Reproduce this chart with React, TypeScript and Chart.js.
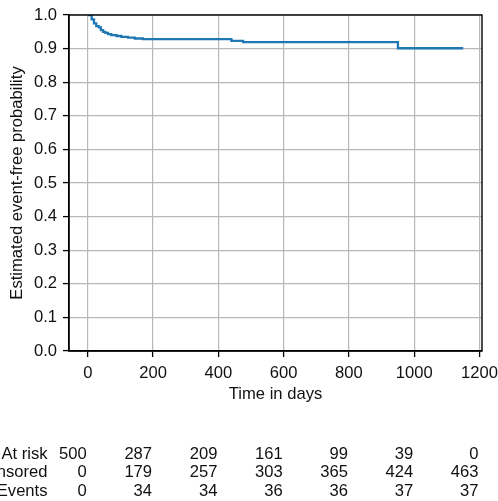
import React, { useEffect, useRef } from "react";
import { Chart, registerables } from "chart.js";

Chart.register(...registerables);

// ---- data ----
const kmTimes = [0, 12, 19, 26, 34, 40, 47, 54, 62, 72, 88, 103, 123, 144, 169, 440, 476, 950, 1150];
const kmSurv = [1.0, 0.987, 0.975, 0.967, 0.963, 0.955, 0.95, 0.947, 0.943, 0.94, 0.9375, 0.935, 0.9325, 0.93, 0.928, 0.923, 0.919, 0.901, 0.901];
const xTicks = [0, 200, 400, 600, 800, 1000, 1200];
const yTicks = [0, 0.1, 0.2, 0.3, 0.4, 0.5, 0.6, 0.7, 0.8, 0.9, 1.0];
const riskLabels = ["At risk", "Censored", "Events"];
const atRisk = [500, 287, 209, 161, 99, 39, 0];
const censored = [0, 179, 257, 303, 365, 424, 463];
const events = [0, 34, 34, 36, 36, 37, 37];
const xLabel = "Time in days";
const yLabel = "Estimated event-free probability";

const FONT = "'Liberation Sans', Arial, Helvetica, sans-serif";
const FS = 16.6;
const TEXT = "#111111";

const framePlugin = {
  id: "frame",
  afterDatasetsDraw(chart: any) {
    const { ctx, chartArea: a } = chart;
    ctx.save();
    ctx.strokeStyle = "#000";
    ctx.lineWidth = 1.4;
    ctx.strokeRect(a.left, a.top, a.right - a.left, a.bottom - a.top);
    ctx.restore();
  },
};

const riskTablePlugin = {
  id: "riskTable",
  afterDraw(chart: any) {
    const { ctx } = chart;
    const xs = chart.scales.x;
    const rows = [atRisk, censored, events];
    const rowY = [454, 472.5, 491];
    ctx.save();
    ctx.font = `${FS}px ${FONT}`;
    ctx.fillStyle = TEXT;
    ctx.textAlign = "right";
    ctx.textBaseline = "middle";
    rows.forEach((vals, r) => {
      ctx.fillText(riskLabels[r], 47.5, rowY[r]);
      vals.forEach((v, i) => {
        const px = xs.getPixelForValue(xTicks[i]) - 1;
        ctx.fillText(String(v), px, rowY[r]);
      });
    });
    ctx.restore();
  },
};

export default function App() {
  const ref = useRef<HTMLCanvasElement | null>(null);
  useEffect(() => {
    if (!ref.current) return;
    const chart = new Chart(ref.current, {
      type: "line",
      data: {
        datasets: [
          {
            data: kmTimes.map((t, i) => ({ x: t, y: kmSurv[i] })),
            borderColor: "#1f77b4",
            backgroundColor: "#1f77b4",
            borderWidth: 2.3,
            pointRadius: 0,
            stepped: true,
            fill: false,
          },
        ],
      },
      options: {
        responsive: false,
        animation: false,
        devicePixelRatio: 1,
        layout: { padding: { left: 0, right: 16, top: 15, bottom: 0 }, autoPadding: false },
        plugins: { legend: { display: false }, tooltip: { enabled: false } },
        scales: {
          x: {
            type: "linear",
            min: -57.5,
            max: 1207.5,
            afterBuildTicks: (s: any) => {
              s.ticks = xTicks.map((v) => ({ value: v }));
            },
            afterFit: (s: any) => {
              s.height = 150;
              s.paddingLeft = 0;
              s.paddingRight = 0;
            },
            grid: {
              color: "#b8b8b8",
              lineWidth: 1.2,
              drawTicks: true,
              tickLength: 6,
              tickColor: "#000",
              tickWidth: 1.3,
            },
            border: { display: true, color: "#000", width: 1.4 },
            ticks: {
              font: { family: FONT, size: FS },
              color: TEXT,
              padding: 6,
              maxRotation: 0,
              autoSkip: false,
              callback: (v: any) => String(v),
            },
            title: {
              display: true,
              text: xLabel,
              font: { family: FONT, size: FS },
              color: TEXT,
              padding: { top: 0, bottom: 96.5 },
            },
          },
          y: {
            type: "linear",
            min: 0,
            max: 1,
            afterBuildTicks: (s: any) => {
              s.ticks = yTicks.map((v) => ({ value: v }));
            },
            afterFit: (s: any) => {
              s.width = 69;
              s.paddingTop = 0;
              s.paddingBottom = 0;
            },
            grid: {
              color: "#b8b8b8",
              lineWidth: 1.2,
              drawTicks: true,
              tickLength: 6,
              tickColor: "#000",
              tickWidth: 1.3,
            },
            border: { display: true, color: "#000", width: 1.4 },
            ticks: {
              font: { family: FONT, size: FS },
              color: TEXT,
              padding: 6,
              autoSkip: false,
              callback: (v: any) => Number(v).toFixed(1),
            },
            title: {
              display: true,
              text: yLabel,
              font: { family: FONT, size: FS },
              color: TEXT,
              padding: { top: 7.5, bottom: 0 },
            },
          },
        },
      },
      plugins: [framePlugin, riskTablePlugin],
    } as any);
    return () => chart.destroy();
  }, []);
  return (
    <div style={{ position: "absolute", left: 0, top: 0, width: 498, height: 501, background: "#fff" }}>
      <canvas ref={ref} width={498} height={501} />
    </div>
  );
}
